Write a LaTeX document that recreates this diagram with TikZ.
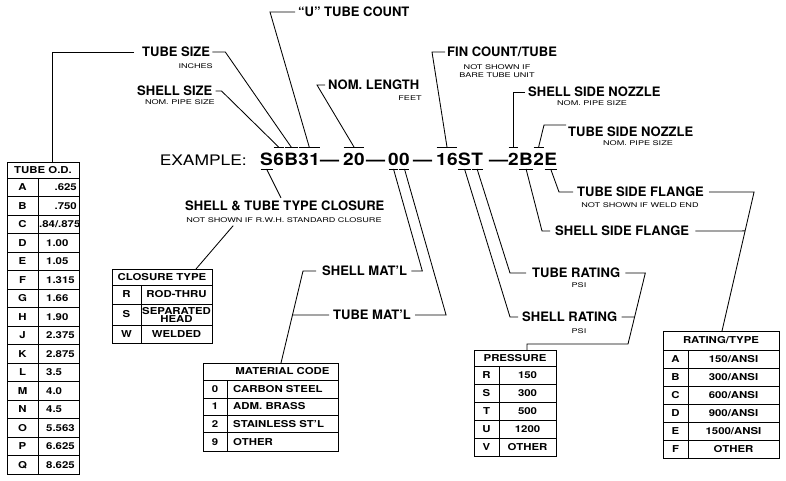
\documentclass[tikz,border=0pt]{standalone}
\usepackage{fontspec}
\newfontfamily\fLab{TeX Gyre Heros}
\newfontfamily\fCode[FakeStretch=1.12]{TeX Gyre Heros}
\newfontfamily\fEx[FakeStretch=1.2]{TeX Gyre Heros}
\newfontfamily\fSmall[FakeStretch=1.4]{TeX Gyre Heros}
\newfontfamily\fTab[FakeStretch=1.2]{TeX Gyre Heros}
\usetikzlibrary{calc}
\newcommand\mytop[2]{\draw[ln] ($(#1.west|-topy)+(0.5,0)$) -- ($(#2.east|-topy)+(-0.5,0)$);}
\newcommand\mybot[2]{\draw[ln] ($(#1.west|-boty)+(0.5,0)$) -- ($(#2.east|-boty)+(-0.5,0)$);}
\tikzset{
 ln/.style={line width=0.85pt, draw=black},
 lbl/.style={font=\fLab\bfseries\fontsize{13}{13}\selectfont, inner sep=0pt, anchor=west},
 sub/.style={font=\fSmall\fontsize{6.5}{8.5}\selectfont, inner sep=0pt, align=center},
 cd/.style={font=\fCode\bfseries\fontsize{17}{17}\selectfont, inner sep=0pt, anchor=base west},
 ex/.style={font=\fEx\fontsize{14.5}{14.5}\selectfont, inner sep=0pt, anchor=base east},
 tb/.style={font=\fTab\bfseries\fontsize{9.5}{9.5}\selectfont, inner sep=0pt, align=center},
 tbox/.style={draw, line width=0.85pt, inner sep=0pt, outer sep=0pt, anchor=north west},
}
\begin{document}
\begin{tikzpicture}[x=1pt,y=-1pt]
\useasboundingbox (0,0) rectangle (786,481);
\fill[white] (0,0) rectangle (786,481);
\coordinate (topy) at (0,147);
\coordinate (boty) at (0,169);

% ---------- code ----------
\node[ex] (exl) at (247,165) {EXAMPLE:};
\node[cd] (g1S) at (260,165) {S};
\node[cd] (g16) at (g1S.base east) {6};
\node[cd] (g1B) at (g16.base east) {B};
\node[cd] (g13) at (g1B.base east) {3};
\node[cd] (g11) at (g13.base east) {1};
\node[cd] (d1) at (320,165) {—};
\node[cd] (g22) at (343,165) {2};
\node[cd] (g20) at (g22.base east) {0};
\node[cd] (d2) at (366,165) {—};
\node[cd] (m0a) at (388,165) {0};
\node[cd] (m0b) at (m0a.base east) {0};
\node[cd] (d3) at (413,165) {—};
\node[cd] (f1) at (436,165) {1};
\node[cd] (f6) at (f1.base east) {6};
\node[cd] (fS) at (f6.base east) {S};
\node[cd] (fT) at (fS.base east) {T};
\node[cd] (d4) at (489,165) {—};
\node[cd] (n2a) at (508,165) {2};
\node[cd] (nB) at (n2a.base east) {B};
\node[cd] (n2b) at (nB.base east) {2};
\node[cd] (nE) at (n2b.base east) {E};

\mytop{g16}{g16} \mytop{g1B}{g1B} \mytop{g13}{g11} \mytop{g22}{g20}
\mytop{f1}{f6} \mytop{n2a}{n2a} \mytop{n2b}{n2b}
\mybot{g1S}{g1S} \mybot{m0a}{m0a} \mybot{m0b}{m0b} \mybot{fS}{fS}
\mybot{fT}{fT} \mybot{nB}{nB} \mybot{nE}{nE}

% ---------- tables ----------
% TUBE O.D.
\node[tbox, minimum width=72pt, minimum height=312pt] (tod) at (7,162) {};
\draw[ln] ($(tod.north west)+(0,16)$) -- ($(tod.north east)+(0,16)$);
\foreach \k in {1,...,15}
  \draw[ln] ($(tod.north west)+(0,16+18.5*\k)$) -- ($(tod.north east)+(0,16+18.5*\k)$);
\draw[ln] ($(tod.north west)+(31,16)$) -- ($(tod.south west)+(31,0)$);
\node[tb] (todh) at ($(tod.north)+(0,8)$) {TUBE O.D.};
\foreach \l [count=\i from 0] in {A,B,C,D,E,F,G,H,J,K,L,M,N,O,P,Q}
  \node[tb] (todl\i) at ($(tod.north west)+(15.5,16+18.5*\i+9.25)$) {\l};
\node[tb, anchor=east] (todv0) at ($(tod.north east)+(-2,16+9.25)$) {.625};
\node[tb, anchor=east] (todv1) at ($(tod.north east)+(-2,16+18.5+9.25)$) {.750};
\node[tb, anchor=west] (todv2) at ($(tod.north west)+(32,16+37+9.25)$) {.84/.875};
\foreach \v [count=\i from 3] in {1.00,1.05,1.315,1.66,1.90,2.375,2.875,3.5,4.0,4.5,5.563,6.625,8.625}
  \node[tb, anchor=west] (todv\i) at ($(tod.north west)+(39,16+18.5*\i+9.25)$) {\v};

% CLOSURE TYPE
\node[tbox, minimum width=100pt, minimum height=74pt] (ct) at (112,269) {};
\draw[ln] ($(ct.north west)+(0,16)$) -- ($(ct.north east)+(0,16)$);
\draw[ln] ($(ct.north west)+(0,35)$) -- ($(ct.north east)+(0,35)$);
\draw[ln] ($(ct.north west)+(0,56)$) -- ($(ct.north east)+(0,56)$);
\draw[ln] ($(ct.north west)+(29,16)$) -- ($(ct.south west)+(29,0)$);
\node[tb] (cth) at ($(ct.north)+(0,8)$) {CLOSURE TYPE};
\node[tb] (ctl1) at ($(ct.north west)+(14.5,25.5)$) {R};
\node[tb] (ctv1) at ($(ct.north west)+(64.5,25.5)$) {ROD-THRU};
\node[tb] (ctl2) at ($(ct.north west)+(14.5,45.5)$) {S};
\node[tb, font=\fTab\bfseries\fontsize{9.5}{8}\selectfont] (ctv2) at ($(ct.north west)+(64.5,45.5)$) {SEPARATED\\HEAD};
\node[tb] (ctl3) at ($(ct.north west)+(14.5,65)$) {W};
\node[tb] (ctv3) at ($(ct.north west)+(64.5,65)$) {WELDED};

% MATERIAL CODE
\node[tbox, minimum width=135pt, minimum height=88pt] (mt) at (203,363) {};
\foreach \yy in {17,35,52,69}
  \draw[ln] ($(mt.north west)+(0,\yy)$) -- ($(mt.north east)+(0,\yy)$);
\draw[ln] ($(mt.north west)+(24,17)$) -- ($(mt.south west)+(24,0)$);
\node[tb] (mth) at ($(mt.north west)+(79.5,8.5)$) {MATERIAL CODE};
\foreach \l/\v [count=\i from 0] in {0/CARBON STEEL,1/ADM. BRASS,2/STAINLESS ST’L,9/OTHER}{
  \node[tb] (mtl\i) at ($(mt.north west)+(12,17+17.6*\i+8.8)$) {\l};
  \node[tb, anchor=west] (mtv\i) at ($(mt.north west)+(30,17+17.6*\i+8.8)$) {\v};
}

% PRESSURE
\node[tbox, minimum width=82pt, minimum height=106pt] (pt) at (474,350) {};
\foreach \k in {0,...,4}
  \draw[ln] ($(pt.north west)+(0,16+18*\k)$) -- ($(pt.north east)+(0,16+18*\k)$);
\draw[ln] ($(pt.north west)+(25,16)$) -- ($(pt.south west)+(25,0)$);
\node[tb] (pth) at ($(pt.north)+(0,8)$) {PRESSURE};
\foreach \l/\v [count=\i from 0] in {R/150,S/300,T/500,U/1200,V/OTHER}{
  \node[tb] (ptl\i) at ($(pt.north west)+(12.5,16+18*\i+9)$) {\l};
  \node[tb] (ptv\i) at ($(pt.north west)+(53.5,16+18*\i+9)$) {\v};
}

% RATING/TYPE
\node[tbox, minimum width=116pt, minimum height=127pt] (rt) at (663,331) {};
\foreach \k in {0,...,5}
  \draw[ln] ($(rt.north west)+(0,19+18*\k)$) -- ($(rt.north east)+(0,19+18*\k)$);
\draw[ln] ($(rt.north west)+(25,19)$) -- ($(rt.south west)+(25,0)$);
\node[tb] (rth) at ($(rt.north)+(0,9.5)$) {RATING/TYPE};
\foreach \l/\v [count=\i from 0] in {A/{150/ANSI},B/{300/ANSI},C/{600/ANSI},D/{900/ANSI},E/{1500/ANSI},F/{OTHER}}{
  \node[tb] (rtl\i) at ($(rt.north west)+(12.5,19+18*\i+9)$) {\l};
  \node[tb] (rtv\i) at ($(rt.north west)+(70.5,19+18*\i+9)$) {\v};
}

% ---------- labels ----------
\node[lbl] (tsz) at (142,52) {TUBE SIZE};
\node[sub, anchor=east] (tszs) at (213,66) {INCHES};
\node[lbl] (ssz) at (137,91) {SHELL SIZE};
\node[sub, anchor=east] (sszs) at (215,102) {NOM. PIPE SIZE};
\node[lbl] (utc) at (298,12) {“U” TUBE COUNT};
\node[lbl] (nl) at (328,85) {NOM. LENGTH};
\node[sub] (nls) at (410,98) {FEET};
\node[lbl] (fc) at (447,52) {FIN COUNT/TUBE};
\node[sub] (fcs) at (497,71) {NOT SHOWN IF\\BARE TUBE UNIT};
\node[lbl] (ssn) at (528,92) {SHELL SIDE NOZZLE};
\node[sub] (ssns) at (592,103) {NOM. PIPE SIZE};
\node[lbl] (tsn) at (568,132) {TUBE SIDE NOZZLE};
\node[sub] (tsns) at (638,143) {NOM. PIPE SIZE};
\node[lbl] (tsf) at (577,192) {TUBE SIDE FLANGE};
\node[sub] (tsfs) at (640,205) {NOT SHOWN IF WELD END};
\node[lbl] (ssf) at (555,231) {SHELL SIDE FLANGE};
\node[lbl] (tr) at (532,273) {TUBE RATING};
\node[sub] (trs) at (579,285) {PSI};
\node[lbl] (sr) at (522,317) {SHELL RATING};
\node[sub] (srs) at (579,331) {PSI};
\node[lbl] (sm) at (322,271) {SHELL MAT’L};
\node[lbl] (tm) at (333,315) {TUBE MAT’L};
\node[lbl] (cl) at (185,206) {SHELL \& TUBE TYPE CLOSURE};
\node[sub] (cls) at (284,220) {NOT SHOWN IF R.W.H. STANDARD CLOSURE};

% ---------- connectors ----------
\draw[ln] ([xshift=-8pt]tsz.west) -| ($(tod.north west)+(45,0)$);
\draw[ln] ([xshift=2pt]tsz.east) -- ++(13,0) -- (g1B|-topy);
\draw[ln] ([xshift=3pt]ssz.east) -- ++(6,0) -- (g16|-topy);
\draw[ln] ([xshift=-3pt]utc.west) -- ++(-25,0) -- (g13.east|-topy);
\draw[ln] ([xshift=-3pt]nl.west) -- ++(-8,0) -- (g22.east|-topy);
\draw[ln] ([xshift=-2pt]fc.west) -- ++(-13,0) -- (f1.east|-topy);
\draw[ln] ([xshift=-3pt]ssn.west) -| (n2a|-topy);
\draw[ln] ($(tsn.west)+(-2,-7)$) -- ++(-22,0) -- (n2b|-topy);
% flanges
\draw[ln] (nE|-boty) -- ($(tsf.west)+(-18,0)$) -- ($(tsf.west)+(-4,0)$);
\coordinate (tsfc) at ($(tsf.east)+(50,0)$);
\coordinate (rtin) at ($(rt.north west)+(59,0)$);
\draw[ln] ($(tsf.east)+(5,0)$) -- (tsfc) -- (rtin);
\draw[ln] (nB|-boty) -- ($(ssf.west)+(-13,0)$) -- ($(ssf.west)+(-5,0)$);
\coordinate (jf) at ($(tsfc)!0.28!(rtin)$);
\draw[ln] ($(ssf.east)+(6,0)$) -- (jf);
% ratings
\draw[ln] (fT|-boty) -- ($(tr.west)+(-22,0)$) -- ($(tr.west)+(-6,0)$);
\coordinate (trc) at ($(tr.east)+(25,0)$);
\coordinate (prc) at (628,344);
\draw[ln] ($(tr.east)+(5,0)$) -- (trc) -- (prc) -| ($(pt.north west)+(53,0)$);
\draw[ln] (fS|-boty) -- ($(sr.west)+(-12,0)$) -- ($(sr.west)+(-4,0)$);
\coordinate (jr) at ($(trc)!0.62!(prc)$);
\draw[ln] ($(sr.east)+(4,0)$) -- (jr);
% materials
\draw[ln] ($(sm.east)+(4,0)$) -- ++(11,0) -- (m0a|-boty);
\coordinate (smc) at ($(sm.west)+(-19,0)$);
\coordinate (mtin) at ($(mt.north west)+(78,0)$);
\draw[ln] ($(sm.west)+(-6,0)$) -- (smc) -- (mtin);
\draw[ln] ($(tm.east)+(4,0)$) -- ++(31,0) -- (m0b|-boty);
\coordinate (jm) at ($(smc)!0.478!(mtin)$);
\draw[ln] ($(tm.west)+(-4,0)$) -- (jm);
% closure
\draw[ln] (g1S|-boty) -- ($(cl.north west)+(96,-3)$);
\draw[ln] ($(cls.south west)+(47,3)$) -- ($(ct.north west)+(84,0)$);
\end{tikzpicture}
\end{document}
